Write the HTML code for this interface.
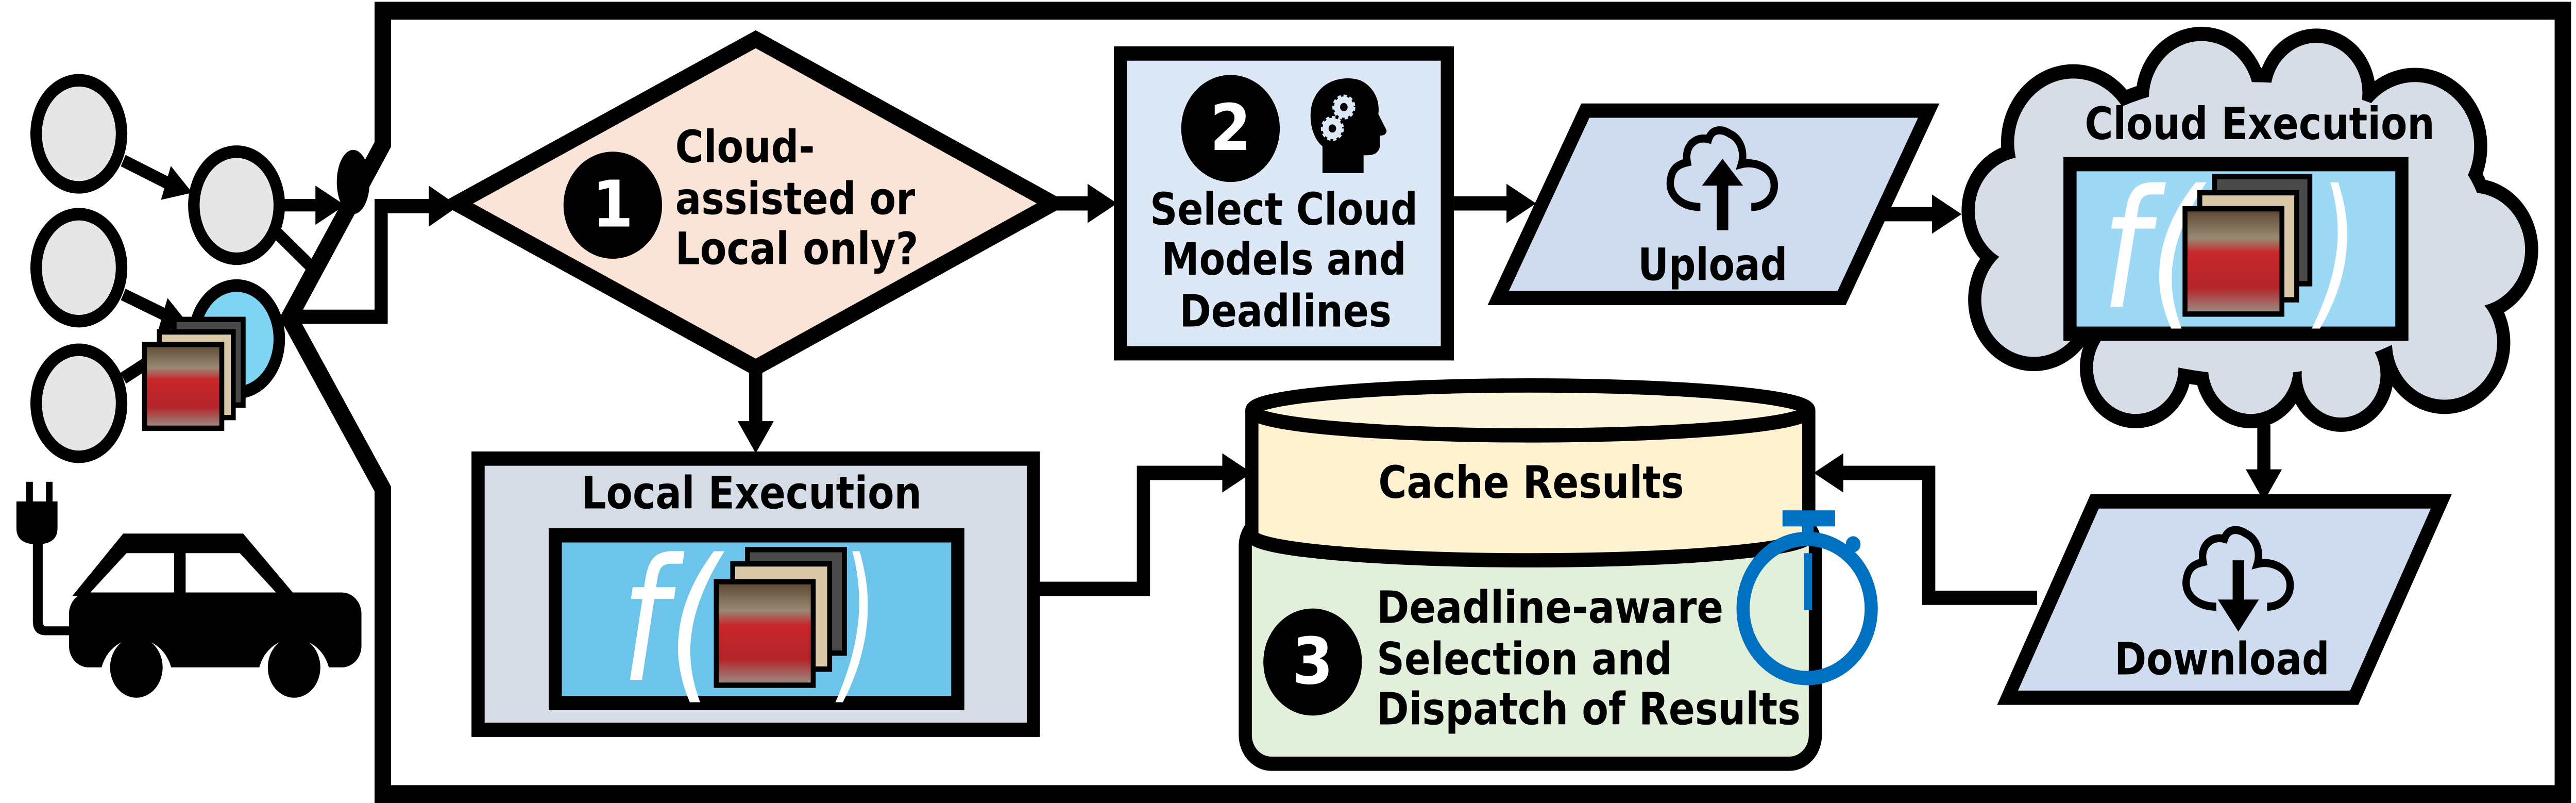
<!DOCTYPE html>
<html><head><meta charset="utf-8"><style>
html,body{margin:0;padding:0;background:#fff;overflow:hidden;width:100vw;height:100vh;}
svg{display:block;position:absolute;left:0;top:0;width:100vw;height:100vh;}
text{font-family:"DejaVu Sans","Liberation Sans",sans-serif;font-weight:bold;fill:#000;}
.f{font-family:"DejaVu Sans","Liberation Sans",sans-serif;font-style:italic;font-weight:normal;fill:#fff;}
</style></head><body>
<svg viewBox="0 0 1568 450" preserveAspectRatio="none" xmlns="http://www.w3.org/2000/svg">
<defs>
<linearGradient id="ph" x1="0" y1="0" x2="0" y2="1">
<stop offset="0" stop-color="#5a4632"/><stop offset="0.28" stop-color="#9a8a74"/>
<stop offset="0.42" stop-color="#c8262a"/><stop offset="0.75" stop-color="#b4252a"/>
<stop offset="1" stop-color="#9a948a"/></linearGradient>
</defs>
<rect width="1568" height="450" fill="#fff"/>

<g stroke="#000" stroke-width="7">
<line x1="75" y1="90" x2="105" y2="104"/>
<line x1="75" y1="165" x2="104" y2="178"/>
<line x1="75" y1="212" x2="95" y2="200"/>
<line x1="168" y1="130" x2="190" y2="150"/>
<line x1="170" y1="115" x2="195" y2="115"/>
</g>
<polygon points="117,108 98,112 104,93" fill="#000"/>
<polygon points="115,182 96,186 102,167" fill="#000"/>
<polygon points="210,115 192,104 192,126" fill="#000"/>
<ellipse cx="215" cy="102" rx="10" ry="18" fill="#000"/>
<g stroke="#000" stroke-width="7" fill="#e6e6e6">
<ellipse cx="48" cy="75" rx="26" ry="30"/>
<ellipse cx="48" cy="150" rx="26" ry="30"/>
<ellipse cx="48" cy="226" rx="26" ry="30"/>
<ellipse cx="144" cy="115" rx="26" ry="30"/>
</g>

<path d="M233,274 L176,178 L233,81 V6 H1560 V445 H233 Z" fill="none" stroke="#000" stroke-width="10"/>
<ellipse cx="144" cy="190" rx="26" ry="30" fill="#7fd4f4" stroke="#000" stroke-width="7"/>
<g stroke="#000" stroke-width="3">
<rect x="106" y="179" width="42" height="48" fill="#4a4a4a"/>
<rect x="97" y="186" width="45" height="48" fill="#d8c8a8"/>
<rect x="88" y="193" width="47" height="47" fill="url(#ph)"/>
</g>

<polyline points="175,177.5 232,177.5 232,115.5 264,115.5" fill="none" stroke="#000" stroke-width="8"/>
<polygon points="279,115.5 261,104 261,127" fill="#000"/>

<g fill="#000">
<rect x="16" y="270" width="4" height="15"/><rect x="28" y="270" width="4" height="15"/>
<path d="M10,281 H35 V296 Q35,305 22.5,305 Q10,305 10,296 Z"/>
<path d="M20,303 V348 Q20,356 28,356 H44 V351 H28 Q26,351 26,348 V303 Z"/>
<polygon points="44,334 75,299 148,299 180,334"/>
<rect x="42" y="332" width="178" height="42" rx="12"/>
</g>
<polygon points="55,332 77,310 106,310 106,332" fill="#fff"/>
<polygon points="113,310 146,310 168,332 113,332" fill="#fff"/>
<circle cx="83" cy="380" r="22" fill="#fff"/><circle cx="179" cy="380" r="22" fill="#fff"/>
<ellipse cx="83" cy="374" rx="16" ry="17" fill="#000"/><ellipse cx="179" cy="374" rx="16" ry="17" fill="#000"/>

<polygon points="460,22 641,114 460,206 278,114" fill="#f9e4d7" stroke="#000" stroke-width="9"/>
<circle cx="373" cy="115" r="30" fill="#000"/>
<text x="373" y="127" font-size="36" text-anchor="middle" style="fill:#fff">1</text>
<text x="411" y="91" font-size="25" textLength="85" lengthAdjust="spacingAndGlyphs">Cloud-</text>
<text x="411" y="120" font-size="25" textLength="146" lengthAdjust="spacingAndGlyphs">assisted or</text>
<text x="411" y="148" font-size="25" textLength="148" lengthAdjust="spacingAndGlyphs">Local only?</text>

<line x1="641" y1="114" x2="664" y2="114" stroke="#000" stroke-width="8"/>
<polygon points="680,114 662,103 662,125" fill="#000"/>
<line x1="460" y1="206" x2="460" y2="238" stroke="#000" stroke-width="8"/>
<polygon points="460,254 449,236 471,236" fill="#000"/>

<rect x="682" y="30" width="199" height="168" fill="#dce8f5" stroke="#000" stroke-width="8"/>
<circle cx="749" cy="72" r="30" fill="#000"/>
<text x="749" y="84" font-size="36" text-anchor="middle" style="fill:#fff">2</text>
<path d="M805,97 V82 C797,76 796,62 800,55 C805,45 818,42 828,45 C837,49 840,57 839,64 L844,73 Q844,76 840,76 V82 C839,86 836,87 832,87 H830 V97 Z" fill="#000"/>
<circle cx="818" cy="60" r="6" fill="#dce8f5" stroke="#dce8f5" stroke-width="2" stroke-dasharray="2 1.5"/><circle cx="818" cy="60" r="2.3" fill="#000"/>
<circle cx="811" cy="72" r="6" fill="#dce8f5" stroke="#dce8f5" stroke-width="2" stroke-dasharray="2 1.5"/><circle cx="811" cy="72" r="2.3" fill="#000"/>
<text x="700" y="126" font-size="25" textLength="163" lengthAdjust="spacingAndGlyphs">Select Cloud</text>
<text x="707" y="154" font-size="25" textLength="149" lengthAdjust="spacingAndGlyphs">Models and</text>
<text x="718" y="183" font-size="25" textLength="129" lengthAdjust="spacingAndGlyphs">Deadlines</text>

<line x1="885" y1="114" x2="918" y2="114" stroke="#000" stroke-width="8"/>
<polygon points="935,114 917,103 917,125" fill="#000"/>

<polygon points="965,62 1174,62 1121,167 912,167" fill="#cfdcef" stroke="#000" stroke-width="8"/>
<path d="M1035,116 C1022,116 1015,108 1017,100 C1018,94 1022,92 1027,91 C1025,82 1032,76 1040,78 C1042,72 1048,72 1053,75 C1060,78 1062,86 1060,92 C1068,90 1080,94 1080,104 C1080,111 1074,116 1066,116" fill="none" stroke="#000" stroke-width="4.5"/>
<rect x="1045" y="100" width="7" height="29" fill="#000"/>
<polygon points="1048.5,89 1061,104 1036,104" fill="#000"/>
<text x="997" y="157" font-size="25" textLength="91" lengthAdjust="spacingAndGlyphs">Upload</text>

<line x1="1147" y1="120" x2="1176" y2="120" stroke="#000" stroke-width="8"/>
<polygon points="1194,120 1176,109 1176,131" fill="#000"/>

<g fill="#000">
<ellipse cx="1370" cy="128" rx="150" ry="90"/>
<circle cx="1262" cy="80" r="44"/><circle cx="1340" cy="55" r="40"/><circle cx="1410" cy="52" r="36"/>
<circle cx="1470" cy="82" r="44"/><circle cx="1505" cy="140" r="40"/><circle cx="1488" cy="192" r="40"/>
<circle cx="1425" cy="210" r="32"/><circle cx="1370" cy="206" r="34"/><circle cx="1300" cy="206" r="34"/>
<circle cx="1238" cy="168" r="40"/><circle cx="1232" cy="118" r="38"/>
</g>
<g fill="#d6dde6">
<ellipse cx="1370" cy="128" rx="142" ry="82"/>
<circle cx="1262" cy="80" r="36"/><circle cx="1340" cy="55" r="32"/><circle cx="1410" cy="52" r="28"/>
<circle cx="1470" cy="82" r="36"/><circle cx="1505" cy="140" r="32"/><circle cx="1488" cy="192" r="32"/>
<circle cx="1425" cy="210" r="24"/><circle cx="1370" cy="206" r="26"/><circle cx="1300" cy="206" r="26"/>
<circle cx="1238" cy="168" r="32"/><circle cx="1232" cy="118" r="30"/>
</g>
<text x="1269" y="78" font-size="25" textLength="213" lengthAdjust="spacingAndGlyphs">Cloud Execution</text>
<rect x="1260" y="92" width="202" height="95" fill="#9dd9f5" stroke="#000" stroke-width="8"/>
<text class="f" x="1279" y="172" font-size="92" textLength="61" lengthAdjust="spacingAndGlyphs">f(</text>
<g stroke="#000" stroke-width="3">
<rect x="1348" y="99" width="58" height="60" fill="#4a4a4a"/>
<rect x="1339" y="108" width="59" height="60" fill="#d8c8a8"/>
<rect x="1330" y="117" width="59" height="59" fill="url(#ph)"/>
</g>
<text class="f" x="1411" y="172" font-size="92" textLength="24" lengthAdjust="spacingAndGlyphs">)</text>

<line x1="1378" y1="238" x2="1378" y2="264" stroke="#000" stroke-width="8"/>
<polygon points="1378,281 1367,263 1389,263" fill="#000"/>

<polygon points="1275,281 1486,281 1433,391 1222,391" fill="#cfdcef" stroke="#000" stroke-width="8"/>
<path d="M1349,340 C1336,340 1329,332 1331,324 C1332,318 1336,316 1341,315 C1339,306 1346,300 1354,302 C1356,296 1362,296 1367,299 C1374,302 1376,310 1374,316 C1382,314 1394,318 1394,328 C1394,335 1388,340 1380,340" fill="none" stroke="#000" stroke-width="4.5"/>
<rect x="1359" y="314" width="7" height="26" fill="#000"/>
<polygon points="1362.5,354 1375,336 1350,336" fill="#000"/>
<text x="1287" y="378" font-size="25" textLength="131" lengthAdjust="spacingAndGlyphs">Download</text>

<polyline points="1240,335 1174,335 1174,265 1120,265" fill="none" stroke="#000" stroke-width="8"/>
<polygon points="1104,265 1122,254 1122,276" fill="#000"/>

<rect x="291" y="257" width="338" height="152" fill="#d6dce5" stroke="#000" stroke-width="8"/>
<text x="354" y="285" font-size="25" textLength="207" lengthAdjust="spacingAndGlyphs">Local Execution</text>
<rect x="338" y="300" width="245" height="94" fill="#6dc4ea" stroke="#000" stroke-width="8"/>
<text class="f" x="378" y="381" font-size="95" textLength="60" lengthAdjust="spacingAndGlyphs">f(</text>
<g stroke="#000" stroke-width="3">
<rect x="455" y="308" width="59" height="58" fill="#4a4a4a"/>
<rect x="446" y="316" width="59" height="59" fill="#d8c8a8"/>
<rect x="436" y="326" width="59" height="58" fill="url(#ph)"/>
</g>
<text class="f" x="512" y="381" font-size="95" textLength="22" lengthAdjust="spacingAndGlyphs">)</text>

<polyline points="629,330 696,330 696,265 745,265" fill="none" stroke="#000" stroke-width="8"/>
<polygon points="762,265 744,254 744,276" fill="#000"/>

<rect x="758" y="290" width="347" height="138" rx="16" fill="#e2efda" stroke="#000" stroke-width="8"/>
<path d="M762,230 V300 A169.5,14 0 0 0 1101,300 V230" fill="#fef2d0" stroke="#000" stroke-width="8"/>
<ellipse cx="931.5" cy="230" rx="169.5" ry="14" fill="#fdf5dc" stroke="#000" stroke-width="8"/>
<text x="839" y="279" font-size="25" textLength="186" lengthAdjust="spacingAndGlyphs">Cache Results</text>

<circle cx="799" cy="371" r="30" fill="#000"/>
<text x="799" y="383" font-size="36" text-anchor="middle" style="fill:#fff">3</text>
<text x="838" y="349" font-size="25" textLength="211" lengthAdjust="spacingAndGlyphs">Deadline-aware</text>
<text x="838" y="378" font-size="25" textLength="180" lengthAdjust="spacingAndGlyphs">Selection and</text>
<text x="838" y="406" font-size="25" textLength="258" lengthAdjust="spacingAndGlyphs">Dispatch of Results</text>

<rect x="1085" y="286" width="32" height="9" fill="#0070c0"/>
<rect x="1097" y="294" width="7" height="7" fill="#0070c0"/>
<circle cx="1128" cy="305" r="4.5" fill="#0070c0"/>
<ellipse cx="1100" cy="341" rx="39" ry="39" fill="none" stroke="#0070c0" stroke-width="8"/>
<rect x="1098" y="310" width="5" height="32" fill="#0070c0"/>
</svg>
</body></html>
